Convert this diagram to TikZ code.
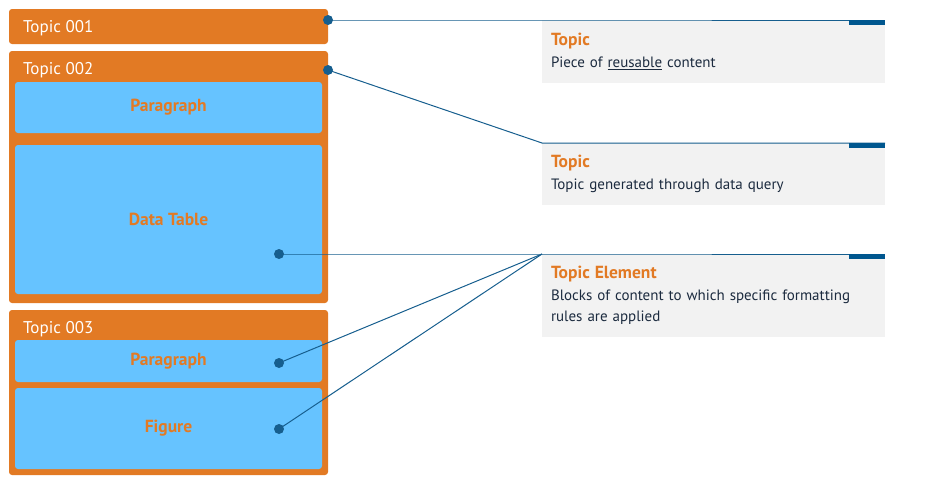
\documentclass[tikz,border=0pt]{standalone}
\usepackage{fontspec}
\setmainfont{PT Sans}
\usetikzlibrary{positioning,calc}
\definecolor{topicorange}{HTML}{E27A24}
\definecolor{elemblue}{HTML}{66C3FF}
\definecolor{linkblue}{HTML}{165E8E}
\definecolor{barblue}{HTML}{00578F}
\definecolor{calloutgray}{HTML}{F2F2F2}
\definecolor{desctext}{HTML}{1C2B3F}

\begin{document}
\begin{tikzpicture}[x=1pt,y=-1pt,
    topicbox/.style={fill=topicorange, rounded corners=3pt, anchor=north west, inner sep=0pt, outer sep=0pt, minimum width=319pt},
    elembox/.style={fill=elemblue, rounded corners=3pt, anchor=north west, inner sep=0pt, outer sep=0pt, minimum width=307pt, text=topicorange, font=\bfseries\fontsize{17.5}{19}\selectfont},
    toptitle/.style={anchor=base west, inner sep=0pt, text=white, font=\fontsize{17}{19}\selectfont},
    callout/.style={fill=calloutgray, anchor=north west, inner xsep=9pt, inner ysep=0pt, outer sep=0pt, text width=325pt, align=left, text=desctext, font=\fontsize{15}{21.5}\selectfont},
    dot/.style={circle, fill=linkblue, inner sep=0pt, minimum size=10pt},
    link/.style={draw=linkblue, line width=1pt},
    bar/.style={fill=barblue}]
        \useasboundingbox (0,0) rectangle (927,480);

        % Topics
        \node [topicbox, minimum height=35pt] (topic1) at (9,9) {};
        \node [topicbox, minimum height=252pt] (topic2) at (9,51) {};
        \node [topicbox, minimum height=165pt] (topic3) at (9,310) {};
        \node [toptitle] (title1) at (23,32) {Topic 001};
        \node [toptitle] (title2) at (23,74) {Topic 002};
        \node [toptitle] (title3) at (23,333) {Topic 003};

        % Elements
        \node [elembox, minimum height=51pt] (para1) at (15,82) {Paragraph};
        \node [elembox, minimum height=149pt] (table) at (15,145) {Data Table};
        \node [elembox, minimum height=42pt] (para2) at (15,340) {Paragraph};
        \node [elembox, minimum height=81pt] (figure) at (15,388) {Figure};

        % Callouts
        \node [callout, minimum height=63pt] (note1) at (542,20) {{\color{topicorange}\bfseries\fontsize{17.5}{21.5}\selectfont Topic}\\Piece of \underline{reusable} content};
        \node [callout, minimum height=62pt] (note2) at (542,143) {{\color{topicorange}\bfseries\fontsize{17.5}{21.5}\selectfont Topic}\\Topic generated through data query};
        \node [callout, minimum height=83pt] (note3) at (542,254) {{\color{topicorange}\bfseries\fontsize{17.5}{21.5}\selectfont Topic Element}\\Blocks of content to which specific formatting\\rules are applied};

        % Dots
        \node [dot] (dot1) at (328,20) {};
        \node [dot] (dot2) at (328,70) {};
        \node [dot] (dot3) at (279,254) {};
        \node [dot] (dot4) at (279,363) {};
        \node [dot] (dot5) at (279,429) {};

        % Links
        \draw [link] (dot1.center) -- (note1.north west) -- (note1.north east);
        \draw [link] (dot2.center) -- (note2.north west) -- (note2.north east);
        \draw [link] (dot3.center) -- (note3.north west) -- (note3.north east);
        \draw [link] (dot4.center) -- (note3.north west);
        \draw [link] (dot5.center) -- (note3.north west);

        % Bars
        \fill [bar] ($(note1.north east)+(-36,0)$) rectangle (note1.north east |- 0,25);
        \fill [bar] ($(note2.north east)+(-36,0)$) rectangle (note2.north east |- 0,148);
        \fill [bar] ($(note3.north east)+(-36,0)$) rectangle (note3.north east |- 0,259);
\end{tikzpicture}
\end{document}
